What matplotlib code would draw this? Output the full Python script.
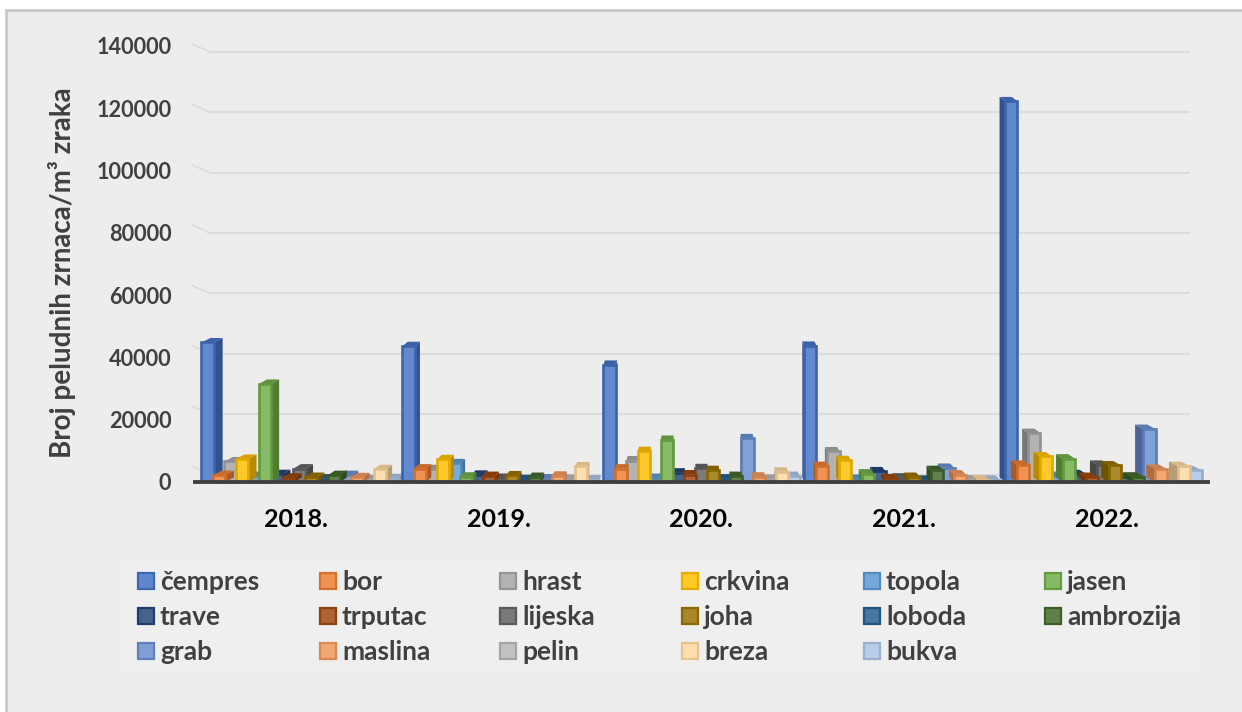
import matplotlib
matplotlib.use("Agg")
import matplotlib.pyplot as plt
from matplotlib.patches import Rectangle, Polygon
from matplotlib.lines import Line2D
from matplotlib.colors import to_rgb

years = ["2018.", "2019.", "2020.", "2021.", "2022."]
species = ["čempres", "bor", "hrast", "crkvina", "topola", "jasen", "trave", "trputac",
           "lijeska", "joha", "loboda", "ambrozija", "grab", "maslina", "pelin", "breza", "bukva"]
colors = ["#4472C4", "#ED7D31", "#A5A5A5", "#FFC000", "#5B9BD5", "#70AD47", "#264478", "#9E480E",
          "#636363", "#997300", "#255E91", "#43682B", "#698ED0", "#F1975A", "#B7B7B7", "#FFD8A0", "#ADC5E7"]
v2018 = [44800, 2200, 6600, 7400, 1900, 31500, 2500, 1400, 4300, 1600, 1100, 2200, 2200, 1500, 900, 4100, 1200]
v2019 = [43600, 4300, 4100, 7300, 6000, 1700, 2300, 1900, 1300, 2100, 900, 1600, 1100, 2000, 1000, 5000, 800]
v2020 = [37600, 4300, 6900, 9900, 1300, 13500, 3000, 2400, 4400, 3800, 1100, 1900, 14000, 1700, 1000, 3300, 1900]
v2021 = [43700, 5100, 9800, 7000, 1000, 2700, 3400, 1200, 1400, 1600, 700, 3800, 4500, 2400, 800, 800, 700]
v2022 = [122200, 5500, 15700, 8200, 1900, 7500, 2500, 1600, 5500, 5300, 1600, 1700, 17000, 4200, 1300, 5100, 3800]
table = [v2018, v2019, v2020, v2021, v2022]
yticks = [0, 20000, 40000, 60000, 80000, 100000, 120000, 140000]

W, H = 1242, 712
plt.rcParams["font.family"] = ["Lato", "DejaVu Sans"]
fig = plt.figure(figsize=(W / 100, H / 100), dpi=100, facecolor="white")


def box(l, t, r, b):
    return [l / W, 1 - b / H, (r - l) / W, (b - t) / H]


def fx(x):
    return x / W


def fy(y):
    return 1 - y / H


def mix(c, other, t):
    a = to_rgb(c)
    o = to_rgb(other)
    return tuple(a[i] * (1 - t) + o[i] * t for i in range(3))


# panel and legend background
fig.add_artist(Rectangle((fx(6), fy(716)), (W + 10) / W, 706 / H, transform=fig.transFigure,
                         fc="#EDEDED", ec="#C9C9C9", lw=2, zorder=-3))
fig.add_artist(Rectangle((fx(120), fy(670)), 1080 / W, 110 / H, transform=fig.transFigure,
                         fc="#EFEFEF", ec="none", zorder=-2))

# back wall gridlines
back = fig.add_axes(box(210, 52, 1190, 474.5))
back.set_xlim(0, 1)
back.set_ylim(0, 140000)
back.axis("off")
for v in yticks:
    back.plot([0, 1], [v, v], color="#DCDCDC", lw=1.6, clip_on=False, solid_capstyle="butt")
    yb = 474.5 - v / 140000 * 422.5
    fig.add_artist(Line2D([fx(192), fx(210)], [fy(yb - 8), fy(yb)], color="#DCDCDC", lw=1.2, zorder=-1))

# front plane
L, T, R, B = 195, 46, 1208, 482
ax = fig.add_axes(box(L, T, R, B))
ax.patch.set_visible(False)
ax.set_xlim(-0.5, 4.5)
ax.set_ylim(0, 140000)
for s in ["top", "right", "left"]:
    ax.spines[s].set_visible(False)
ax.spines["bottom"].set_color("#404040")
ax.spines["bottom"].set_linewidth(2.8)
ax.spines["bottom"].set_zorder(10)
ax.set_yticks(yticks)
ax.set_xticks(range(5), years)
ax.tick_params(axis="y", length=0, pad=17, labelsize=15.6, labelcolor="#404040")
ax.tick_params(axis="x", length=0, pad=19, labelsize=18, labelcolor="#000000")
for lab in ax.get_yticklabels() + ax.get_xticklabels():
    lab.set_fontweight("bold")

px_x = (R - L) / 5
px_y = (B - T) / 140000
slot = 0.0568
bar_w = 0.060
depth_y = 4.5
persp = 0.0185
center_px = 700

for i, vals in enumerate(table):
    order = list(range(len(species)))
    if i >= 3:
        order = order[::-1]
    for k in order:
        v = vals[k]
        c = colors[k]
        x = 2 + (i - 2) * 0.992 + (k - 8) * slot
        xpx = L + (x + 0.5) * px_x
        dx = (center_px - xpx) * persp / px_x
        dy = depth_y / px_y
        x0, x1 = x - bar_w / 2, x + bar_w / 2
        z = 3 + (k % 2) * 0.1
        dark = mix(c, "#000000", 0.28)
        # side face
        xs = x1 if dx > 0 else x0
        ax.add_patch(Polygon([(xs, 0), (xs + dx, dy), (xs + dx, v + dy), (xs, v)],
                             fc=dark, ec="none", zorder=z, clip_on=False))
        # top face
        ax.add_patch(Polygon([(x0, v), (x1, v), (x1 + dx, v + dy), (x0 + dx, v + dy)],
                             fc=mix(c, "#000000", 0.15), ec="none", zorder=z, clip_on=False))
        # front face
        ax.bar(x, v, width=bar_w, color=mix(c, "#FFFFFF", 0.16),
               edgecolor=mix(c, "#000000", 0.12), linewidth=1.9, zorder=z + 0.01)

fig.text(fx(62), fy(273), "Broj peludnih zrnaca/m³ zraka", rotation=90, ha="center", va="center",
         fontsize=20, fontweight="bold", color="#404040")

# legend
col_x = [138, 320, 500, 682, 864, 1045]
row_y = [580, 615, 650]
for idx, name in enumerate(species):
    r, q = divmod(idx, 6)
    sx, sy = col_x[q], row_y[r]
    c = colors[idx]
    fig.add_artist(Rectangle((fx(sx), fy(sy + 9)), 16 / W, 16 / H, transform=fig.transFigure,
                             fc=mix(c, "#FFFFFF", 0.15), ec=mix(c, "#000000", 0.1), lw=1.6))
    fig.text(fx(sx + 22), fy(sy), name, ha="left", va="center_baseline", fontsize=19,
             fontweight="bold", color="#404040")

fig.savefig("out.png", dpi=100, facecolor="white")
